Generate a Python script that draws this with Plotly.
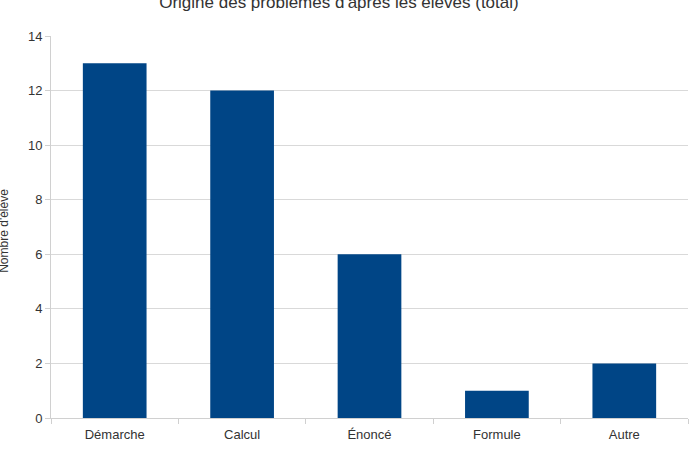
import plotly.graph_objects as go

categories = ["Démarche", "Calcul", "Énoncé", "Formule", "Autre"]
values = [13, 12, 6, 1, 2]
y_ticks = [0, 2, 4, 6, 8, 10, 12, 14]

fig = go.Figure()
fig.add_trace(go.Bar(x=categories, y=values, marker=dict(color="#004586", line=dict(width=0))))

fig.update_layout(
    width=695, height=449,
    margin=dict(l=51, r=7, t=36, b=31),
    paper_bgcolor="white", plot_bgcolor="white",
    font=dict(family="Liberation Sans, Arial, sans-serif", size=13, color="#333333"),
    bargap=0.5,
    showlegend=False,
    title=dict(text="Origine des problèmes d'après les élèves (total)",
               x=0.4877, xanchor="center", yref="container", y=0.996, yanchor="middle",
               font=dict(size=17, color="#333333")),
    xaxis=dict(showline=True, linecolor="#d0d0d0", linewidth=1, ticks="outside",
               tickson="boundaries", ticklen=5, tickcolor="#d0d0d0",
               showgrid=False, ticklabelstandoff=4,
               tickfont=dict(size=13, color="#333333")),
    yaxis=dict(range=[0, 14], tickvals=y_ticks, showline=True, linecolor="#d0d0d0",
               ticks="outside", ticklen=5, tickcolor="#d0d0d0",
               gridcolor="#d9d9d9", gridwidth=1, zeroline=False,
               tickfont=dict(size=13, color="#333333")),
    annotations=[dict(text="Nombre d'élève", textangle=-90, xref="paper", yref="paper",
                      x=-0.0738, y=0.49, xanchor="center", yanchor="middle", showarrow=False,
                      font=dict(size=12, color="#333333"))],
)

fig.write_html("out.html")
